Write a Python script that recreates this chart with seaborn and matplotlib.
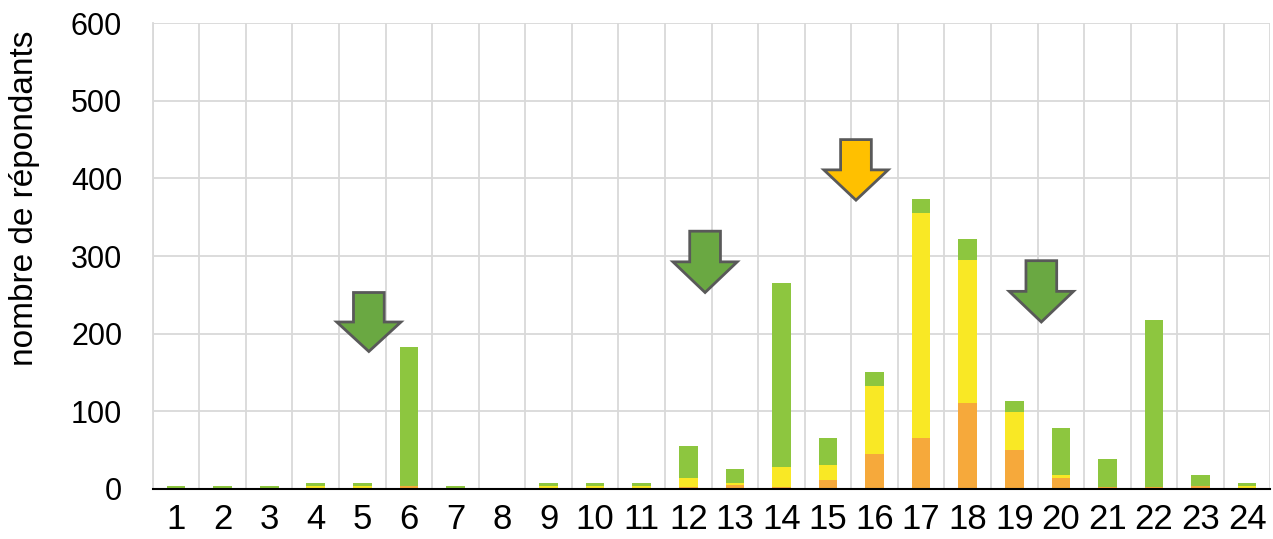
import matplotlib
matplotlib.use("Agg")

import matplotlib.pyplot as plt
import numpy as np
import pandas as pd
import seaborn as sns
from matplotlib.patches import Polygon

# Données (nombre de répondants par heure)
heures = [str(h) for h in range(1, 25)]
orange = [0, 0, 0, 1, 1, 4, 0, 0, 1, 1, 1, 2, 5, 3, 11, 45, 65, 111, 50, 14, 3, 3, 4, 1]
jaune = [1, 1, 1, 3, 3, 0, 1, 0, 3, 3, 3, 12, 3, 25, 20, 88, 291, 184, 49, 4, 0, 0, 0, 3]
vert = [3, 3, 3, 3, 3, 179, 3, 0, 3, 3, 3, 41, 17, 237, 34, 17, 17, 27, 14, 61, 35, 214, 14, 3]

# Flèches d'annotation : (position x, haut, pointe, couleur)
fleches = [
    (4.14, 253, 177, "#6aa842"),
    (11.36, 332, 253, "#6aa842"),
    (14.6, 450, 372, "#ffc000"),
    (18.58, 294, 215, "#6aa842"),
]

C_VERT = "#8dc63f"
C_JAUNE = "#f9e825"
C_ORANGE = "#f6a93b"

sns.set_theme(style="white")
plt.rcParams["font.family"] = ["Liberation Sans", "DejaVu Sans"]
plt.rcParams["text.color"] = "black"
plt.rcParams["axes.labelcolor"] = "black"

df = pd.DataFrame({"heure": heures, "orange": orange, "jaune": jaune, "vert": vert})
df["cum_jaune"] = df["orange"] + df["jaune"]
df["total"] = df["cum_jaune"] + df["vert"]

fig = plt.figure(figsize=(12.73, 5.39), dpi=100)
ax = fig.add_axes([0.120, 0.093, 0.878, 0.864])

# empilement : on superpose les cumuls
for col, couleur in [("total", C_VERT), ("cum_jaune", C_JAUNE), ("orange", C_ORANGE)]:
    sns.barplot(data=df, x="heure", y=col, color=couleur, width=0.4,
                saturation=1, linewidth=0, ax=ax, zorder=3)

ax.set_xlim(-0.5, 23.5)
ax.set_ylim(0, 600)
ax.set_yticks(range(0, 601, 100))
ax.set_xticks(np.arange(-0.5, 24, 1), minor=True)
ax.grid(True, which="minor", axis="x", color="#d9d9d9", linewidth=1.3, zorder=0)
ax.grid(True, which="major", axis="y", color="#d9d9d9", linewidth=1.3, zorder=0)
ax.set_axisbelow(True)

ax.set_xlabel("")
ax.set_ylabel("nombre de répondants", fontsize=24)
ax.yaxis.set_label_coords(-0.101, 0.625)
ax.tick_params(axis="y", labelsize=22, length=8, color="#bfbfbf", width=1.2,
               pad=14, labelcolor="black")
ax.tick_params(axis="x", which="both", length=0, labelsize=25, pad=10,
               labelcolor="black")

for side in ["top", "right"]:
    ax.spines[side].set_visible(False)
ax.spines["left"].set_color("#d9d9d9")
ax.spines["left"].set_linewidth(1.3)
ax.spines["bottom"].set_color("black")
ax.spines["bottom"].set_linewidth(1.5)
ax.spines["bottom"].set_zorder(5)

# flèches
for x, haut, pointe, couleur in fleches:
    milieu = (haut + pointe) / 2
    demi_tige, demi_tete = 0.33, 0.69
    pts = [
        (x - demi_tige, haut), (x + demi_tige, haut), (x + demi_tige, milieu),
        (x + demi_tete, milieu), (x, pointe), (x - demi_tete, milieu),
        (x - demi_tige, milieu),
    ]
    ax.add_patch(Polygon(pts, closed=True, facecolor=couleur,
                         edgecolor="#595959", linewidth=2, zorder=6))

fig.savefig("out.png", dpi=100)
plt.close(fig)
